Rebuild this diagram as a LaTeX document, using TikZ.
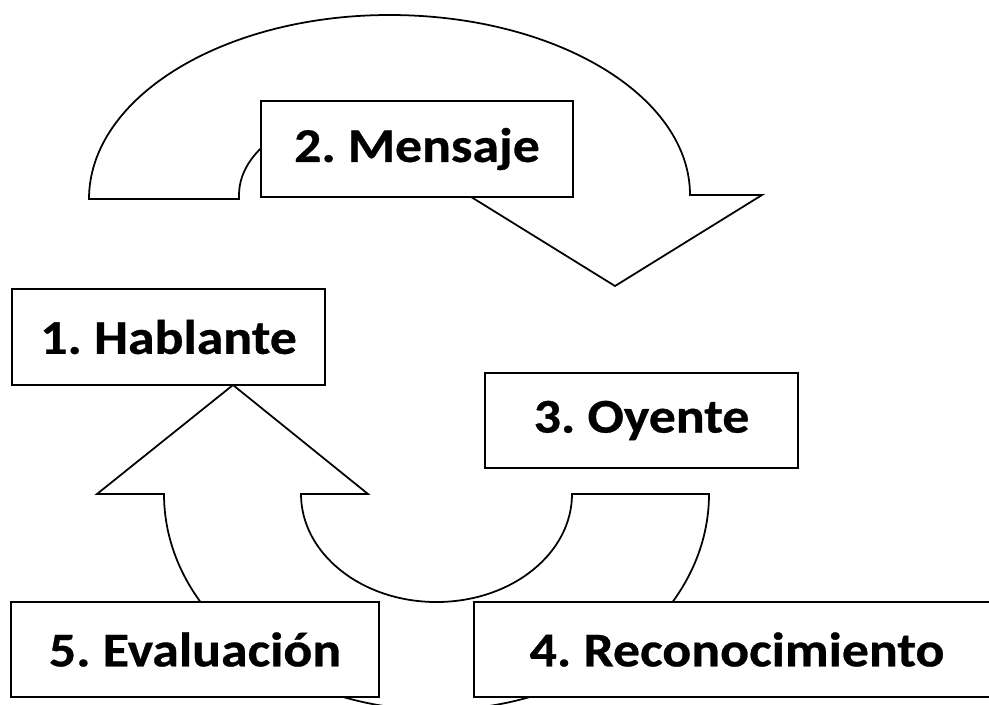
\documentclass[tikz,border=0pt]{standalone}
\usepackage{fontspec}
\setmainfont{Carlito}
\newfontfamily\boxfont[FakeStretch=1.11,BoldFeatures={FakeBold=0.6}]{Carlito}
\begin{document}
\begin{tikzpicture}[x=0.02cm,y=-0.02cm,
  shapeline/.style={draw=black,fill=white,line width=1pt,line join=miter},
  stagebox/.style={draw=black,fill=white,line width=1pt,inner sep=0pt,
    minimum height=1.91cm,font=\boxfont\fontsize{27.6pt}{33pt}\selectfont\bfseries\frenchspacing}]
\useasboundingbox (0,0) rectangle (989,704);
\clip (0,0) rectangle (989,704);
% top curved arrow (Hablante -> Mensaje -> Oyente)
\path[shapeline] (89,199) arc[start angle=180,end angle=270,x radius=300.5,y radius=184]
  arc[start angle=270,end angle=360,x radius=300.5,y radius=180]
  -- (762,195) -- (615,286) -- (468,195) -- (540,195)
  arc[start angle=360,end angle=180,x radius=150.5,y radius=90] -- (239,199) -- cycle;
% bottom U arrow (Oyente -> Reconocimiento -> Evaluacion -> Hablante)
\coordinate (tip) at (233,385);
\path[shapeline] (tip) -- (368,494) -- (301,494)
  arc[start angle=180,end angle=0,x radius=135.5,y radius=108]
  -- (709,494)
  arc[start angle=0,end angle=180,x radius=272.5,y radius=216]
  -- (97,494) -- cycle;
% boxes
\node[stagebox,minimum width=6.24cm] (men) at (417,149) {2. Mensaje};
\node[stagebox,minimum width=6.26cm] (hab) at (168.5,337) {1. Hablante};
\node[stagebox,minimum width=6.26cm,minimum height=1.90cm] (oye) at (641.5,420.5) {3. Oyente};
\node[stagebox,minimum width=7.36cm,minimum height=1.90cm] (eva) at (195,649.5) {5. Evaluación};
\node[stagebox,minimum width=10.52cm,minimum height=1.90cm] (rec) at (737,649.5) {4. Reconocimiento};
\end{tikzpicture}
\end{document}
